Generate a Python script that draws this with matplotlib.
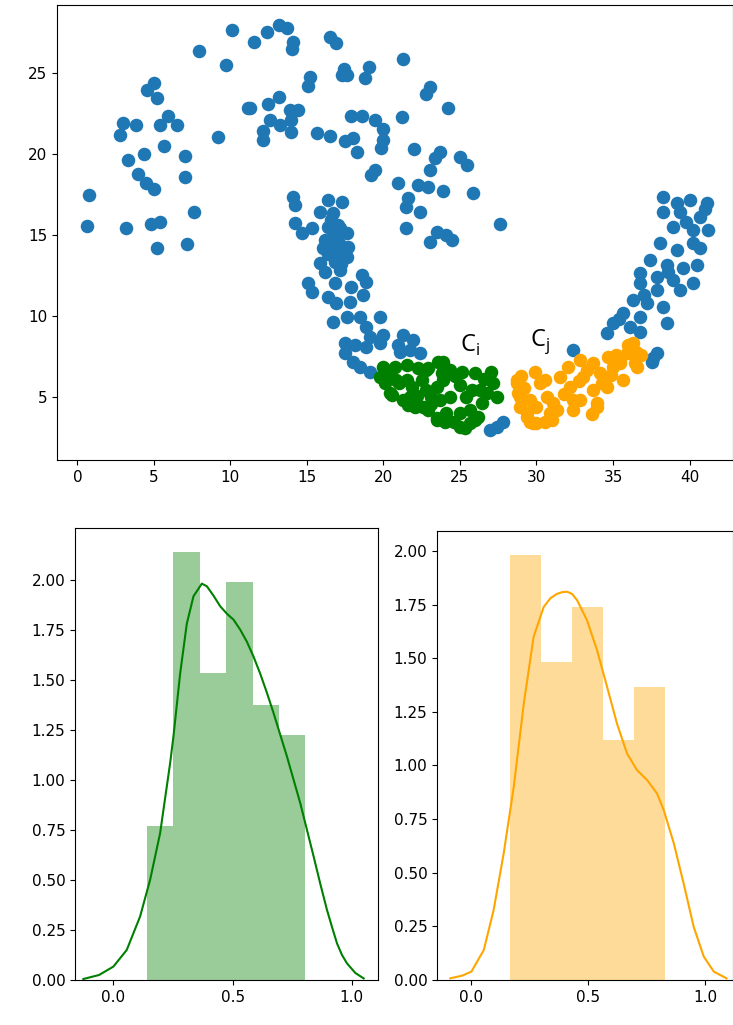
import matplotlib
matplotlib.use("Agg")
import matplotlib.pyplot as plt

# ---------------- scatter data ----------------
blue_x = [10.11, 11.51, 7.98, 9.72, 5.04, 4.54, 5.19, 11.18, 5.95, 3.01, 3.82, 5.41, 6.50, 2.79,
          9.18, 5.69, 4.38, 7.04, 3.29, 3.99, 4.49, 5.01, 7.04, 0.77, 7.59, 0.66, 3.16, 4.80, 5.37,
          5.19, 7.15,
          12.36, 13.18, 13.67, 14.06, 14.00, 16.50, 16.93, 21.29, 17.43, 17.26, 17.65, 19.05, 18.78,
          15.19, 15.04, 23.03, 22.75, 24.23, 11.27, 12.46, 13.18, 13.88, 14.43, 12.58, 13.23, 13.99,
          13.99, 12.10, 12.10, 21.18, 15.69, 16.50, 17.91, 18.57, 19.44, 19.98, 19.98, 19.87, 17.48,
          18.02, 18.24, 21.99, 23.69, 23.36, 24.99, 25.47, 23.03, 19.44, 19.16, 20.92, 22.27, 22.92,
          23.86, 25.86, 21.61, 21.46, 22.38, 21.46, 27.61, 23.47, 24.12, 24.45, 23.03,
          14.10, 14.21, 16.39, 17.26, 15.84, 16.71, 14.21, 14.65, 15.30, 16.39, 17.15, 17.59, 16.17,
          16.93, 17.69, 16.06, 16.93, 17.59, 15.84, 16.82, 17.15, 16.17, 18.57, 15.08, 15.30, 16.82,
          17.91, 18.89, 18.67, 16.39, 16.93, 17.80, 16.71, 17.59, 18.46, 19.76, 18.89, 19.11, 19.98,
          21.29, 21.94, 17.48, 18.13, 18.89, 19.76, 20.96, 21.73, 17.48, 21.07, 22.38, 18.02, 19.11,
          18.46,
          16.60, 17.00, 17.30, 16.80, 17.10, 16.50, 17.40, 16.90, 17.20, 16.70, 17.00, 16.40,
          26.95, 27.40, 27.82,
          38.28, 39.16, 40.03, 41.12, 38.28, 39.37, 40.68, 38.94, 40.24, 41.22, 40.24, 38.07, 39.16,
          37.41, 38.50, 39.59, 40.46, 36.76, 37.85, 38.94, 40.24, 36.76, 37.85, 39.37, 36.32, 37.19,
          38.28, 35.67, 36.76, 38.50, 35.01, 36.10, 34.58, 36.76, 32.40, 37.85, 37.52, 37.63,
          41.00, 40.70, 39.80, 38.60, 37.00, 35.40]
blue_y = [27.63, 26.89, 26.36, 25.47, 24.35, 23.93, 23.42, 22.81, 22.35, 21.88, 21.78, 21.78, 21.78,
          21.16, 21.02, 20.50, 20.01, 19.87, 19.62, 18.74, 18.22, 17.83, 18.59, 17.46, 16.44, 15.55,
          15.41, 15.68, 15.82, 14.18, 14.43,
          27.53, 27.94, 27.74, 26.91, 26.44, 27.18, 26.85, 25.84, 25.23, 24.86, 24.86, 25.37, 24.65,
          24.75, 24.18, 24.10, 23.67, 22.81, 22.81, 23.07, 23.48, 22.70, 22.70, 22.09, 21.78, 22.09,
          21.37, 21.41, 20.85, 22.29, 21.27, 21.12, 22.33, 22.33, 22.09, 21.53, 20.85, 20.34, 20.79,
          20.96, 20.13, 20.28, 20.13, 19.73, 19.82, 19.31, 19.00, 19.00, 18.70, 18.22, 18.08, 17.98,
          17.73, 17.57, 17.27, 16.74, 16.44, 15.41, 15.68, 15.20, 15.00, 14.69, 14.55,
          17.36, 16.85, 17.16, 17.05, 16.44, 16.34, 15.72, 15.10, 15.41, 15.51, 15.41, 15.10, 14.69,
          14.59, 14.28, 14.18, 13.97, 13.66, 13.26, 13.35, 12.84, 12.74, 12.53, 12.02, 11.51, 12.02,
          11.81, 12.12, 11.30, 11.20, 10.79, 10.89, 9.66, 9.97, 9.97, 9.97, 9.35, 8.73, 8.84,
          8.84, 8.53, 8.33, 8.22, 8.12, 8.33, 8.22, 7.91, 7.71, 7.81, 7.71, 7.20, 6.58,
          6.89,
          15.90, 15.60, 15.20, 14.90, 14.50, 14.30, 13.90, 13.60, 13.20, 15.30, 14.10, 13.80,
          2.98, 3.15, 3.50,
          17.36, 16.95, 17.16, 16.95, 16.44, 16.44, 16.13, 15.51, 15.31, 15.31, 14.49, 14.49, 14.08,
          13.46, 13.15, 12.95, 13.15, 12.64, 12.43, 12.23, 12.02, 12.02, 11.61, 11.61, 11.00, 10.79,
          10.58, 10.18, 9.97, 9.56, 9.56, 9.35, 8.94, 9.04, 7.91, 7.71, 7.20, 7.40,
          16.60, 14.20, 15.80, 12.70, 11.30, 9.80]

green_x = [20.09, 20.75, 21.51, 22.27, 22.92, 23.58, 24.34, 25.11, 25.97, 20.53, 21.29, 21.84, 22.49,
           23.47, 23.90, 24.99, 25.76, 27.17, 27.39, 22.05, 22.92, 23.69, 24.34, 23.47, 24.12, 24.99,
           25.65, 26.41, 26.74, 24.99, 25.65, 26.30, 22.81, 20.85, 19.80, 27.06,
           19.98, 20.09, 20.42, 21.51, 21.73, 22.60, 23.47, 23.90, 22.81, 24.60, 26.00, 23.10,
           20.40, 21.00, 22.20, 23.10, 24.70, 25.40, 26.60, 24.00, 25.30, 26.20, 21.60, 23.80]
green_y = [6.07, 6.89, 6.99, 6.79, 6.79, 7.19, 6.68, 6.58, 6.48, 5.14, 4.83, 5.66, 6.07,
           5.66, 6.07, 5.76, 5.45, 5.86, 5.04, 4.42, 4.22, 4.83, 5.04, 3.70, 4.01, 4.01,
           4.22, 4.63, 5.25, 3.20, 3.40, 5.45, 5.45, 6.07, 6.27, 6.58,
           6.89, 5.86, 5.25, 6.07, 5.04, 4.42, 3.60, 7.19, 6.68, 3.50, 3.60, 4.60,
           6.60, 5.90, 5.10, 5.00, 6.30, 5.00, 6.10, 3.50, 3.10, 3.80, 4.50, 6.50]

orange_x = [28.70, 28.80, 28.91, 29.35, 29.78, 30.55, 30.98, 29.91, 30.55, 30.66, 29.57, 31.53, 32.07,
            32.84, 32.19, 32.40, 33.71, 34.14, 33.71, 33.93, 35.03, 35.46, 36.00, 36.44, 34.70, 35.68,
            33.05, 31.31,
            28.70, 28.91, 29.35, 30.00, 30.87, 31.09, 32.40, 32.84, 33.93, 34.58, 35.46, 36.55, 35.89,
            36.32, 36.80, 30.20,
            29.20, 29.00, 31.80, 32.80, 34.30, 33.30, 35.20, 30.00, 31.00, 29.60, 34.90, 36.50, 33.60]
orange_y = [6.07, 5.25, 4.42, 3.80, 3.40, 3.50, 4.01, 6.58, 6.07, 5.04, 4.83, 6.27, 6.89,
            7.30, 5.66, 4.83, 7.09, 6.48, 5.45, 4.42, 6.89, 7.30, 8.22, 7.09, 7.50, 6.07,
            6.27, 4.22,
            5.86, 5.04, 4.01, 3.40, 4.01, 4.63, 4.22, 4.83, 4.63, 5.66, 7.09, 6.89, 7.71,
            8.33, 7.60, 5.90,
            5.60, 6.30, 5.20, 6.00, 5.90, 6.70, 7.60, 4.40, 3.60, 3.50, 6.40, 7.80, 4.00]

scatter_xticks = [0, 5, 10, 15, 20, 25, 30, 35, 40]
scatter_yticks = [5, 10, 15, 20, 25]
cluster_labels = ["C$_\\mathregular{i}$", "C$_\\mathregular{j}$"]

# ---------------- histogram / KDE data ----------------
green_edges = [0.141, 0.252, 0.363, 0.474, 0.585, 0.696, 0.805]
green_heights = [0.767, 2.137, 1.533, 1.987, 1.375, 1.222]
green_kde_x = [-0.126, -0.06, 0.0, 0.056, 0.112, 0.154, 0.196, 0.238, 0.252, 0.280, 0.308, 0.336,
               0.371, 0.392, 0.420, 0.448, 0.476, 0.504, 0.532, 0.560, 0.588, 0.616, 0.644, 0.672,
               0.700, 0.728, 0.756, 0.784, 0.812, 0.840, 0.868, 0.896, 0.917, 0.938, 0.959, 0.980,
               1.015, 1.05]
green_kde_y = [0.005, 0.025, 0.067, 0.150, 0.317, 0.500, 0.733, 1.083, 1.217, 1.530, 1.780, 1.917,
               1.980, 1.967, 1.920, 1.867, 1.830, 1.800, 1.750, 1.690, 1.615, 1.530, 1.435, 1.333,
               1.225, 1.117, 1.000, 0.883, 0.750, 0.617, 0.480, 0.350, 0.265, 0.183, 0.125, 0.083,
               0.035, 0.008]

orange_edges = [0.164, 0.297, 0.430, 0.563, 0.696, 0.829]
orange_heights = [1.98, 1.483, 1.739, 1.118, 1.366]
orange_kde_x = [-0.09, -0.04, 0.0, 0.053, 0.095, 0.138, 0.181, 0.224, 0.266, 0.309, 0.338, 0.366,
                0.388, 0.409, 0.430, 0.452, 0.494, 0.537, 0.580, 0.622, 0.665, 0.708, 0.751, 0.793,
                0.822, 0.865, 0.907, 0.950, 0.993, 1.036, 1.09]
orange_kde_y = [0.008, 0.020, 0.039, 0.140, 0.326, 0.590, 0.900, 1.289, 1.600, 1.739, 1.780, 1.800,
                1.808, 1.810, 1.800, 1.770, 1.677, 1.537, 1.366, 1.196, 1.056, 0.978, 0.932, 0.870,
                0.792, 0.637, 0.450, 0.248, 0.109, 0.039, 0.008]

hist_xticks = [0.0, 0.5, 1.0]
hist_yticks = [0.00, 0.25, 0.50, 0.75, 1.00, 1.25, 1.50, 1.75, 2.00]

# ---------------- figure ----------------
W, H = 733, 1025
fig = plt.figure(figsize=(W / 100, H / 100), dpi=100)

def rect(l, t, r, b):
    return [l / W, 1 - b / H, (r - l) / W, (b - t) / H]

ax = fig.add_axes(rect(57, 5, 733, 460))
ax.scatter(blue_x, blue_y, s=95, color="#1f77b4", linewidths=0)
ax.scatter(green_x, green_y, s=95, color="green", linewidths=0)
ax.scatter(orange_x, orange_y, s=95, color="orange", linewidths=0)
ax.text(25.0, 7.8, cluster_labels[0], fontsize=17, family="Open Sans", color="black")
ax.text(29.6, 8.2, cluster_labels[1], fontsize=17, family="Open Sans", color="black")
ax.set_xlim(-1.33, 42.84)
ax.set_ylim(1.14, 29.17)
ax.set_xticks(scatter_xticks)
ax.set_yticks(scatter_yticks)
ax.tick_params(labelsize=11)

def hist_panel(box, edges, heights, kx, ky, color, xlim, ylim):
    a = fig.add_axes(box)
    widths = [edges[i + 1] - edges[i] for i in range(len(heights))]
    a.bar(edges[:-1], heights, width=widths, align="edge", color=color, alpha=0.4, linewidth=0)
    a.plot(kx, ky, color=color, linewidth=1.5)
    a.set_xlim(*xlim)
    a.set_ylim(*ylim)
    a.set_xticks(hist_xticks)
    a.set_yticks(hist_yticks)
    a.set_yticklabels([f"{v:.2f}" for v in hist_yticks])
    a.tick_params(labelsize=11)
    return a

hist_panel(rect(75, 528, 378, 980), green_edges, green_heights, green_kde_x, green_kde_y,
           "green", (-0.161, 1.11), (0, 2.258))
hist_panel(rect(437, 531, 733, 980), orange_edges, orange_heights, orange_kde_x, orange_kde_y,
           "orange", (-0.147, 1.118), (0, 2.093))

fig.savefig("out.png", dpi=100)
